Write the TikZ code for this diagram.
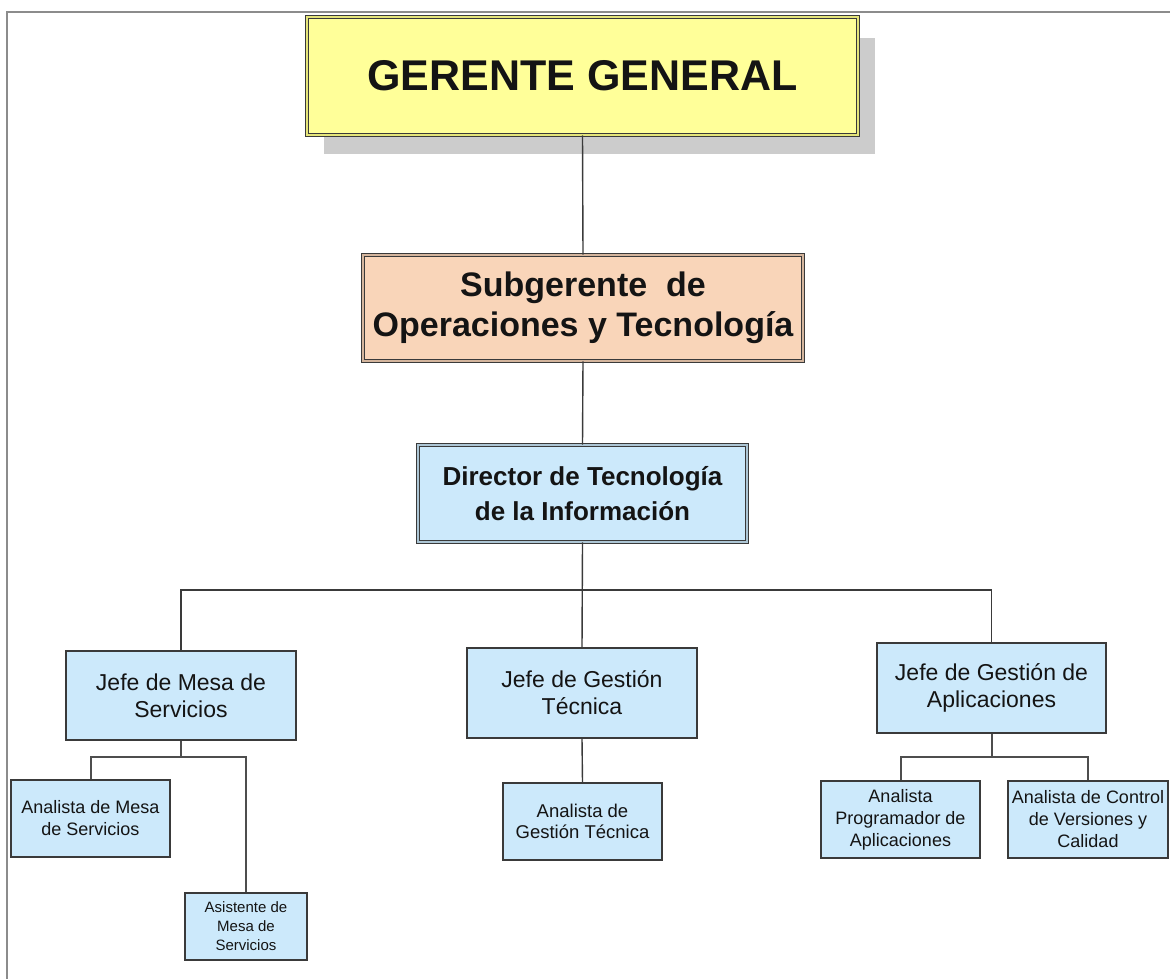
\documentclass[tikz,border=0pt]{standalone}
\usepackage{fontspec}
\setmainfont{Liberation Sans}
\usetikzlibrary{backgrounds}
\definecolor{boxyellow}{HTML}{FFFF99}
\definecolor{boxpeach}{HTML}{F9D5B9}
\definecolor{boxblue}{HTML}{CCE9FB}
\definecolor{edgegray}{HTML}{3A3A3A}
\definecolor{shadowgray}{HTML}{CCCCCC}
\definecolor{framegray}{HTML}{8C8C8C}
\definecolor{inktext}{HTML}{141414}
\begin{document}
\begin{tikzpicture}[x=1pt,y=-1pt,
  doublebox/.style={draw=edgegray, line width=0.9pt, double distance=2.2pt, inner sep=0pt, align=center, text=inktext},
  headbox/.style={doublebox, double=boxyellow!80!olive, fill=boxyellow},
  subbox/.style={doublebox, double=boxpeach!85!black, fill=boxpeach},
  dirbox/.style={doublebox, double=boxblue!85!black, fill=boxblue},
  unitbox/.style={draw=edgegray, line width=1.4pt, fill=boxblue, inner sep=0pt, align=center, text=inktext},
  link/.style={draw=edgegray, line width=1.4pt},
  sublink/.style={draw=edgegray!90, line width=2pt}]
\useasboundingbox (0,0) rectangle (1170,979);

% page frame
\draw[framegray, line width=1.3pt] (7,979) -- (7,12) -- (1170,12);

% top levels
\node[headbox, minimum width=551, minimum height=118,
      font=\fontsize{43}{50}\bfseries\selectfont] (gg) at (582.5,76) {GERENTE GENERAL};
\node[subbox, minimum width=440, minimum height=106,
      font=\fontsize{34}{40}\bfseries\selectfont] (sub) at (583,308) {Subgerente~ de\\Operaciones y Tecnología};
\node[dirbox, minimum width=329, minimum height=97,
      font=\fontsize{26}{35}\bfseries\selectfont] (dir) at (582.5,493.5) {\raisebox{6pt}{\parbox{300pt}{\centering Director de Tecnología\\de la Información}}};

% shadow of the top box
\begin{scope}[on background layer]
  \fill[shadowgray] ([shift={(17,21)}]gg.north west) rectangle ([shift={(17,19)}]gg.south east);
\end{scope}

% heads of unit
\node[unitbox, minimum width=230, minimum height=89,
      font=\fontsize{23}{27}\selectfont] (jms) at (181,695.5) {Jefe de Mesa de\\Servicios};
\node[unitbox, minimum width=230, minimum height=90,
      font=\fontsize{23}{27}\selectfont] (jgt) at (582,693) {Jefe de Gestión\\Técnica};
\node[unitbox, minimum width=229, minimum height=90,
      font=\fontsize{23}{27}\selectfont] (jga) at (991.5,688) {Jefe de Gestión de\\Aplicaciones};

% staff
\node[unitbox, minimum width=159, minimum height=77,
      font=\fontsize{18}{22}\selectfont] (ams) at (90.5,818.5) {Analista de Mesa\\de Servicios};
\node[unitbox, minimum width=122, minimum height=67,
      font=\fontsize{15}{19}\selectfont] (asm) at (246,926.5) {Asistente de\\Mesa de\\Servicios};
\node[unitbox, minimum width=159, minimum height=77,
      font=\fontsize{18.5}{21}\selectfont] (agt) at (582.5,821.5) {Analista de\\Gestión Técnica};
\node[unitbox, minimum width=159, minimum height=77,
      font=\fontsize{18}{22}\selectfont] (apa) at (900.5,819.5) {Analista\\Programador de\\Aplicaciones};
\node[unitbox, minimum width=160, minimum height=77,
      font=\fontsize{18}{22}\selectfont] (acv) at (1088,819.5) {Analista de Control\\de Versiones y\\Calidad};

% reporting lines
\coordinate (bus) at (582,590);
\coordinate (lbus) at (181,757);
\coordinate (rbus) at (991,757);

\draw[link] (gg.south) -- (sub.north);
\draw[link] (sub.south) -- (dir.north);
\draw[link] (dir.south) -- (jgt.north);
\draw[link] (jms.north) -- (jms.north |- bus) -- (jga.north |- bus) -- (jga.north);

\draw[sublink] (jms.south) -- (jms.south |- lbus);
\draw[sublink] (ams.north) -- (ams.north |- lbus) -- (asm.north |- lbus) -- (asm.north);
\draw[link] (jgt.south) -- (agt.north);
\draw[sublink] (jga.south) -- (jga.south |- rbus);
\draw[sublink] (apa.north) -- (apa.north |- rbus) -- (acv.north |- rbus) -- (acv.north);
\end{tikzpicture}
\end{document}
